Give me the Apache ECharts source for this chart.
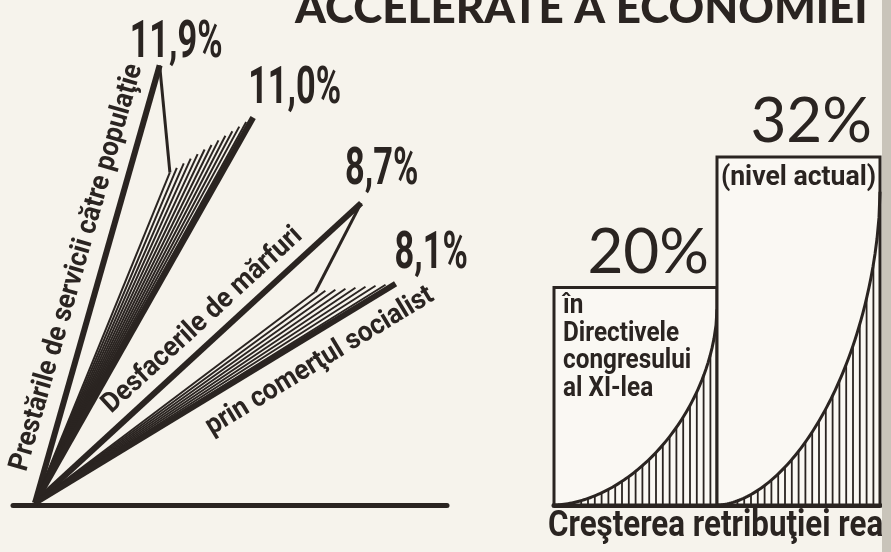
<!DOCTYPE html>
<html>
<head>
<meta charset="utf-8">
<script src="https://cdn.jsdelivr.net/npm/echarts@6/dist/echarts.min.js"></script>
<style>
  html, body { margin: 0; padding: 0; background: #f6f3ec; }
  #main { width: 891px; height: 552px; }
</style>
</head>
<body>
<div id="main"></div>
<script>
// left fan: four rays, grouped in pairs (upper ray, lower ray)
const rayValues = [11.9, 11.0, 8.7, 8.1];
const rayAngle = [74.1, 60.5, 42.6, 31.3];
const rayLength = [455, 443, 443, 422];
const rayTitles = ['Prestările de servicii către populaţie', '', 'Desfacerile de mărfuri', 'prin comerţul socialist'];
// where each upper ray folds back before the hatching starts
const notchAngle = [67.8, 37.0];
const notchLength = [357, 351];

// right: two bars
const barNames = ['în\nDirectivele\ncongresului\nal XI-lea', '(nivel actual)'];
const barValues = [20, 32];

const titleText = 'ACCELERATE A ECONOMIEI';
const axisTitle = 'Creşterea retribuţiei rea';

const INK = '#2a2421';
const PAPER = '#f6f3ec';
const HATCH = [12, 8];
const TIP_OFF = [[-30, -21], [-5, -27], [-16, -32], [-1, -29]];
const TITLE_POS = [[238, 24], null, [247, 21], [317, -27]];
const CURVE_END = 0.9;
const CURVE_P = 1.8;
const BAR_HATCH_GAP = 6.8;

const seg = (a, b, w) => ({
  type: 'line',
  shape: { x1: a[0], y1: a[1], x2: b[0], y2: b[1] },
  style: { stroke: INK, lineWidth: w, lineCap: 'butt' }
});

function renderFan(params, api) {
  const g = params.dataIndex;
  const O = api.coord([0, 0]);
  const pHi = api.coord([api.value(0), api.value(1)]);
  const pN = api.coord([api.value(2), api.value(3)]);
  const pLo = api.coord([api.value(4), api.value(5)]);
  const kids = [];
  kids.push(seg(O, pHi, 6));
  kids.push(seg(pHi, pN, 3));
  const n = HATCH[g];
  for (let k = 0; k < n; k++) {
    const t = k / n;
    kids.push(seg(O, [pN[0] + (pLo[0] - pN[0]) * t, pN[1] + (pLo[1] - pN[1]) * t], 2));
  }
  kids.push(seg(O, pLo, 6));

  [g * 2, g * 2 + 1].forEach((ri, j) => {
    const p = j === 0 ? pHi : pLo;
    const off = TIP_OFF[ri];
    kids.push({
      type: 'text', x: p[0] + off[0], y: p[1] + off[1], scaleX: 0.66,
      style: {
        text: rayValues[ri].toFixed(1).replace('.', ',') + '%',
        font: 'bold 52px Roboto', fill: INK, align: 'left', verticalAlign: 'middle'
      }
    });
    if (rayTitles[ri]) {
      const a = rayAngle[ri] * Math.PI / 180;
      const d = TITLE_POS[ri][0], s = TITLE_POS[ri][1];
      const ux = Math.cos(a), uy = -Math.sin(a);
      const nx = -Math.sin(a), ny = -Math.cos(a);
      kids.push({
        type: 'text', x: O[0] + ux * d + nx * s, y: O[1] + uy * d + ny * s,
        rotation: a, scaleX: 0.93,
        style: {
          text: rayTitles[ri], font: 'bold 28px Roboto', fill: INK,
          align: 'center', verticalAlign: 'middle'
        }
      });
    }
  });
  return { type: 'group', children: kids };
}

function renderBar(params, api) {
  const i = params.dataIndex;
  const base = api.coord([i, 0]);
  const top = api.coord([i, api.value(1)]);
  const bw = api.size([1, 0])[0];
  const L = base[0] - bw / 2, R = base[0] + bw / 2, B = base[1], T = top[1];
  const Te = B - (B - T) * CURVE_END;
  const w = R - L, h = B - Te;
  const curveY = x => {
    const t = Math.min(1, Math.max(0, (x - L) / w));
    return B - h * (1 - Math.pow(1 - Math.pow(t, CURVE_P), 1 / CURVE_P));
  };
  const pts = [];
  for (let x = L; x < R; x += 2) pts.push([x, curveY(x)]);
  pts.push([R, Te]);

  const kids = [{
    type: 'rect', shape: { x: L, y: T, width: w, height: B - T },
    style: { fill: '#faf8f3', stroke: INK, lineWidth: 3 }
  }];
  for (let x = L + BAR_HATCH_GAP; x < R - 2; x += BAR_HATCH_GAP) kids.push(seg([x, curveY(x)], [x, B], 1.8));
  kids.push({ type: 'polyline', shape: { points: pts }, style: { stroke: INK, lineWidth: 3, fill: null } });

  kids.push({
    type: 'text', x: R - 8, y: T - 4,
    style: { text: barValues[i] + '%', font: '400 62px Lato', fill: INK, align: 'right', verticalAlign: 'bottom' }
  });
  if (i === 0) {
    kids.push({
      type: 'text', x: L + 9, y: T + 5, scaleX: 0.9,
      style: { text: barNames[i], font: 'bold 27px Roboto', lineHeight: 27.5, fill: INK, align: 'left', verticalAlign: 'top' }
    });
  } else {
    kids.push({
      type: 'text', x: (L + R) / 2, y: T + 21, scaleX: 0.95,
      style: { text: barNames[i], font: 'bold 28px Roboto', fill: INK, align: 'center', verticalAlign: 'middle' }
    });
  }
  return { type: 'group', children: kids };
}

const chart = echarts.init(document.getElementById('main'));
chart.setOption({
  animation: false,
  backgroundColor: PAPER,
  title: {
    text: titleText, left: 295, top: -13, padding: 0,
    textStyle: { fontFamily: 'Lato', fontWeight: 900, fontSize: 44, lineHeight: 44, color: INK }
  },
  polar: { center: [35, 503], radius: 460 },
  angleAxis: { type: 'value', min: 0, max: 360, startAngle: 0, clockwise: false, show: false },
  radiusAxis: { type: 'value', min: 0, max: 460, show: false },
  grid: [
    { left: 13, right: 444, top: 100, bottom: 47 },
    { left: 554, right: 11, top: 70, bottom: 47 }
  ],
  xAxis: [
    {
      gridIndex: 0, type: 'value', min: 0, max: 1,
      axisLine: { lineStyle: { color: INK, width: 5 } },
      axisTick: { show: false }, axisLabel: { show: false }, splitLine: { show: false }
    },
    {
      gridIndex: 1, type: 'category', data: barNames,
      axisLine: { lineStyle: { color: INK, width: 5 } },
      axisTick: { show: false }, axisLabel: { show: false }, splitLine: { show: false }
    }
  ],
  yAxis: [
    { gridIndex: 0, type: 'value', min: 0, max: 1, show: false },
    { gridIndex: 1, type: 'value', min: 0, max: 40, show: false }
  ],
  graphic: [
    { type: 'rect', left: 882, top: 0, shape: { width: 9, height: 552 }, style: { fill: '#c9c4ba' }, z: 10 },
    {
      type: 'text', x: 548, y: 527, scaleX: 0.87,
      style: { text: axisTitle, font: 'bold 36px Roboto', fill: INK, align: 'left', verticalAlign: 'middle' }
    }
  ],
  series: [
    {
      type: 'custom', coordinateSystem: 'polar', polarIndex: 0,
      dimensions: ['r1', 'a1', 'rn', 'an', 'r2', 'a2'],
      encode: { radius: 0, angle: 1 },
      data: [0, 1].map(g => [rayLength[g * 2], rayAngle[g * 2], notchLength[g], notchAngle[g], rayLength[g * 2 + 1], rayAngle[g * 2 + 1]]),
      renderItem: renderFan
    },
    {
      type: 'custom', xAxisIndex: 1, yAxisIndex: 1,
      encode: { x: 0, y: 1 },
      data: barValues.map((v, i) => [i, v]),
      renderItem: renderBar
    }
  ]
});
</script>
</body>
</html>
